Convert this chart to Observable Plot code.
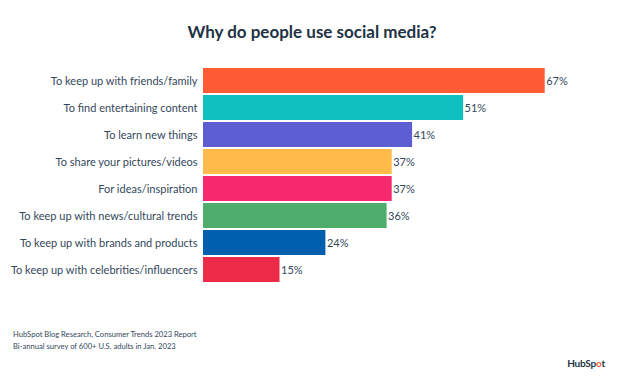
<!DOCTYPE html>
<html>
<head>
<meta charset="utf-8">
<script src="https://cdn.jsdelivr.net/npm/d3@7"></script>
<script src="https://cdn.jsdelivr.net/npm/@observablehq/plot@0.6"></script>
<style>
  html, body { margin: 0; padding: 0; background: #fff; }
  #wrap { position: relative; width: 624px; height: 378px; font-family: Lato, "Noto Sans", sans-serif; color: #33475b; }
  #title { position: absolute; left: 0; top: 21px; width: 624px; text-align: center; font-size: 17px; font-weight: 700; color: #213343; }
  #chart { position: absolute; left: 0; top: 62px; line-height: 0; }
  #caption { position: absolute; left: 13px; top: 328px; font-size: 7.6px; line-height: 12px; color: #33475b; }
  #logo { position: absolute; right: 19px; top: 357px; font-size: 10px; font-weight: 700; color: #213343; letter-spacing: -0.2px; }
  #logo span { color: #ff5c35; }
</style>
</head>
<body>
<div id="wrap">
  <div id="title">Why do people use social media?</div>
  <div id="chart"></div>
  <div id="caption">HubSpot Blog Research, Consumer Trends 2023 Report<br>Bi-annual survey of 600+ U.S. adults in Jan. 2023</div>
  <div id="logo">HubSp<span>o</span>t</div>
</div>
<script>
const reasons = [
  "To keep up with friends/family",
  "To find entertaining content",
  "To learn new things",
  "To share your pictures/videos",
  "For ideas/inspiration",
  "To keep up with news/cultural trends",
  "To keep up with brands and products",
  "To keep up with celebrities/influencers"
];
const shares = [67, 51, 41, 37, 37, 36, 24, 15];
const colors = ["#ff5c35", "#10bfbf", "#5c5ed1", "#ffba4a", "#f6296e", "#4fad6c", "#0060ae", "#eb2b47"];

const data = reasons.map((r, i) => ({reason: r, share: shares[i], color: colors[i]}));

const chart = Plot.plot({
  width: 624,
  height: 228,
  marginLeft: 203,
  marginRight: 13,
  marginTop: 4,
  marginBottom: 6.5,
  style: {fontFamily: "Lato, 'Noto Sans', sans-serif", fontSize: "11px", color: "#33475b", background: "transparent"},
  x: {domain: [0, 80], axis: null},
  y: {domain: reasons, paddingInner: 0.09, paddingOuter: 0, label: null, tickSize: 0, tickPadding: 6},
  marks: [
    Plot.barX(data, {x: "share", y: "reason", fill: "color"}),
    Plot.text(data, {x: "share", y: "reason", text: d => d.share + "%", textAnchor: "start", dx: 1, fill: "#33475b", fontSize: 11})
  ]
});
chart.querySelectorAll("[aria-label='y-axis tick label'] text").forEach(t => t.setAttribute("fill", "#33475b"));
document.getElementById("chart").appendChild(chart);
</script>
</body>
</html>
